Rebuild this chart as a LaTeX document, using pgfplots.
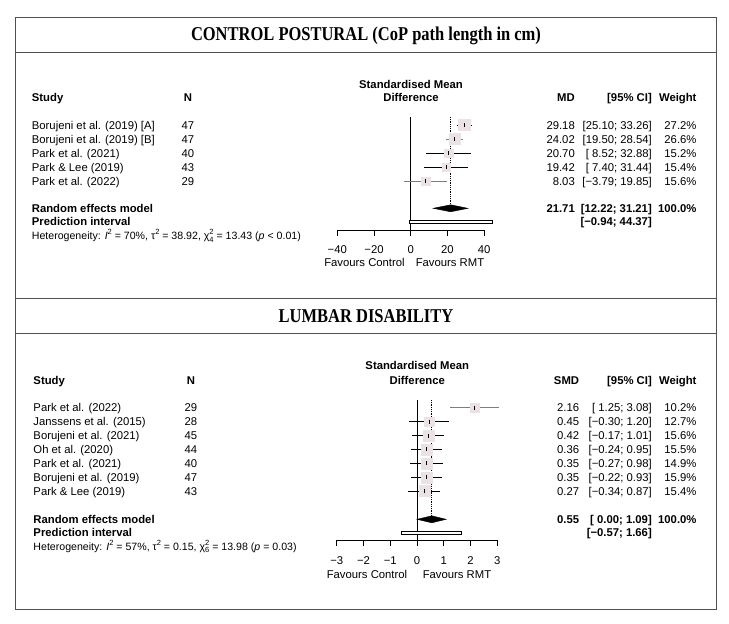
\documentclass[border=0pt]{standalone}
\usepackage{pgfplots}
\pgfplotsset{compat=1.18}
\usepackage{fontspec}
\setmainfont{Liberation Sans}
\newfontfamily\titlefont{Liberation Serif}
\definecolor{sq}{RGB}{234,226,228}
\definecolor{frm}{RGB}{80,80,80}
\definecolor{cig}{RGB}{125,125,125}
\newcommand{\hs}{\fontsize{11.3bp}{13bp}\selectfont}
\newcommand{\het}{\fontsize{10.6bp}{12bp}\selectfont}
\newcommand{\sm}{\fontsize{7.5bp}{9bp}\selectfont}
\newcommand{\sups}[1]{\raisebox{0.85ex}{\sm #1}}
\newcommand{\supsub}[2]{\makebox[0pt][l]{\raisebox{0.85ex}{\sm #1}}\raisebox{-0.45ex}{\sm #2}}
\pgfplotsset{
  forest/.style={
    scale only axis=false,
    axis x line*=bottom, axis y line=none,
    axis line style={black, line width=0.8bp, -},
    xticklabels={}, tick align=outside, major tick length=6bp,
    tick style={black, line width=0.8bp},
    clip=false,
  },
  ln/.style={black, line width=0.8bp},
  sqm/.style={only marks, mark=square*, color=sq, mark options={draw=sq, fill=sq}},
  est/.style={only marks, mark=|, mark size=2bp, black, mark options={line width=0.8bp}},
}
\begin{document}
\hs
\begin{tikzpicture}
\useasboundingbox (0,0) rectangle (729bp,-624bp);
% ---------- frames ----------
\draw[frm, line width=1bp] (15bp,-17.3bp) rectangle (716.7bp,-609.3bp);
\draw[frm, line width=1bp] (15bp,-52.7bp) -- (716.7bp,-52.7bp);
\draw[frm, line width=1bp] (15bp,-298.3bp) -- (716.7bp,-298.3bp);
\draw[frm, line width=1bp] (15bp,-333.3bp) -- (716.7bp,-333.3bp);

% ---------- panel 1 ----------
\begin{axis}[forest,
  at={(337.3bp,-230bp)}, anchor=south west,
  x=1.835bp, y=1bp,
  xmin=-40, xmax=40, ymin=-230, ymax=-115,
  xtick={-40,-20,0,20,40}]
\addplot[ln] coordinates {(0,-117) (0,-230)};
\addplot[ln, densely dotted] coordinates {(21.71,-117) (21.71,-204)};
% Borujeni [A]
\addplot[sqm, mark size=5.66bp] coordinates {(29.18,-125)};
\addplot[ln] coordinates {(25.10,-125) (33.26,-125)};
\addplot[est] coordinates {(29.18,-125)};
% Borujeni [B]
\addplot[sqm, mark size=5.6bp] coordinates {(24.02,-139)};
\addplot[ln, cig] coordinates {(19.50,-139) (28.54,-139)};
\addplot[est] coordinates {(24.02,-139)};
% Park 2021
\addplot[sqm, mark size=4.23bp] coordinates {(20.70,-153)};
\addplot[ln] coordinates {(8.52,-153) (32.88,-153)};
\addplot[est] coordinates {(20.70,-153)};
% Park & Lee 2019
\addplot[sqm, mark size=4.26bp] coordinates {(19.42,-167)};
\addplot[ln] coordinates {(7.40,-167) (31.44,-167)};
\addplot[est] coordinates {(19.42,-167)};
% Park 2022
\addplot[sqm, mark size=4.29bp] coordinates {(8.03,-181)};
\addplot[ln, cig] coordinates {(-3.79,-181) (19.85,-181)};
\addplot[est] coordinates {(8.03,-181)};
% random effects diamond
\addplot[fill=black, draw=black, line width=0.4bp] coordinates {(12.22,-208.3) (21.71,-204.8) (31.21,-208.3) (21.71,-211.8)} -- cycle;
% prediction interval
\addplot[draw=black, fill=white, line width=0.8bp] coordinates {(-0.94,-220) (44.37,-220) (44.37,-223) (-0.94,-223)} -- cycle;
% tick labels
\node[anchor=base, inner sep=0pt] at (axis cs:-40,-253) {−40};
\node[anchor=base, inner sep=0pt] at (axis cs:-20,-253) {−20};
\node[anchor=base, inner sep=0pt] at (axis cs:0,-253) {0};
\node[anchor=base, inner sep=0pt] at (axis cs:20,-253) {20};
\node[anchor=base, inner sep=0pt] at (axis cs:40,-253) {40};
\end{axis}

% ---------- panel 2 ----------
\begin{axis}[forest,
  at={(336.7bp,-540bp)}, anchor=south west,
  x=26.77bp, y=1bp,
  xmin=-3, xmax=3, ymin=-540, ymax=-400,
  xtick={-3,-2,-1,0,1,2,3}]
\addplot[ln] coordinates {(0,-400) (0,-540)};
\addplot[ln, densely dotted] coordinates {(0.55,-400) (0.55,-516)};
% Park 2022
\addplot[sqm, mark size=4.47bp] coordinates {(2.16,-407.7)};
\addplot[ln, cig] coordinates {(1.25,-407.7) (3.08,-407.7)};
\addplot[est] coordinates {(2.16,-407.7)};
% Janssens 2015
\addplot[sqm, mark size=4.99bp] coordinates {(0.45,-421.7)};
\addplot[ln] coordinates {(-0.30,-421.7) (1.20,-421.7)};
\addplot[est] coordinates {(0.45,-421.7)};
% Borujeni 2021
\addplot[sqm, mark size=5.53bp] coordinates {(0.42,-435.7)};
\addplot[ln] coordinates {(-0.17,-435.7) (1.01,-435.7)};
\addplot[est] coordinates {(0.42,-435.7)};
% Oh 2020
\addplot[sqm, mark size=5.51bp] coordinates {(0.36,-449.3)};
\addplot[ln] coordinates {(-0.24,-449.3) (0.95,-449.3)};
\addplot[est] coordinates {(0.36,-449.3)};
% Park 2021
\addplot[sqm, mark size=5.4bp] coordinates {(0.35,-463.3)};
\addplot[ln] coordinates {(-0.27,-463.3) (0.98,-463.3)};
\addplot[est] coordinates {(0.35,-463.3)};
% Borujeni 2019
\addplot[sqm, mark size=5.58bp] coordinates {(0.35,-477.3)};
\addplot[ln] coordinates {(-0.22,-477.3) (0.93,-477.3)};
\addplot[est] coordinates {(0.35,-477.3)};
% Park & Lee 2019
\addplot[sqm, mark size=5.49bp] coordinates {(0.27,-491)};
\addplot[ln] coordinates {(-0.34,-491) (0.87,-491)};
\addplot[est] coordinates {(0.27,-491)};
% diamond
\addplot[fill=black, draw=black, line width=0.4bp] coordinates {(0.00,-519.3) (0.55,-515.8) (1.09,-519.3) (0.55,-522.8)} -- cycle;
% prediction interval
\addplot[draw=black, fill=white, line width=0.8bp] coordinates {(-0.57,-531.3) (1.66,-531.3) (1.66,-534.3) (-0.57,-534.3)} -- cycle;
\node[anchor=base, inner sep=0pt] at (axis cs:-3,-564.7) {−3};
\node[anchor=base, inner sep=0pt] at (axis cs:-2,-564.7) {−2};
\node[anchor=base, inner sep=0pt] at (axis cs:-1,-564.7) {−1};
\node[anchor=base, inner sep=0pt] at (axis cs:0,-564.7) {0};
\node[anchor=base, inner sep=0pt] at (axis cs:1,-564.7) {1};
\node[anchor=base, inner sep=0pt] at (axis cs:2,-564.7) {2};
\node[anchor=base, inner sep=0pt] at (axis cs:3,-564.7) {3};
\end{axis}

% ---------- texts ----------
\begin{scope}[x=1bp, y=-1bp, every node/.style={inner sep=0pt}]
% titles
\node[anchor=base] at (366,41) {\titlefont\bfseries\fontsize{17bp}{19bp}\selectfont\scalebox{0.97}[1.15]{CONTROL POSTURAL (CoP path length in cm)}};
\node[anchor=base] at (366,322) {\titlefont\bfseries\fontsize{17bp}{19bp}\selectfont\scalebox{0.97}[1.15]{LUMBAR DISABILITY}};

% panel 1 header
\node[anchor=base] at (411,88.3) {\bfseries Standardised Mean};
\node[anchor=base] at (411,101.7) {\bfseries Difference};
\node[anchor=base west] at (31.7,101.7) {\bfseries Study};
\node[anchor=base] at (188,101.7) {\bfseries N};
\node[anchor=base east] at (575,101.7) {\bfseries MD};
\node[anchor=base east] at (652,101.7) {\bfseries [95\% CI]};
\node[anchor=base east] at (696.7,101.7) {\bfseries Weight};
% panel 1 rows
\foreach \yy/\st/\n/\md/\ci/\w in {
  129/Borujeni et al. (2019) [A]/47/29.18/[25.10; 33.26]/27.2\%,
  143/Borujeni et al. (2019) [B]/47/24.02/[19.50; 28.54]/26.6\%,
  157.3/Park et al. (2021)/40/20.70/[\ 8.52; 32.88]/15.2\%,
  171/Park \& Lee (2019)/43/19.42/[\ 7.40; 31.44]/15.4\%,
  185/Park et al. (2022)/29/8.03/[−3.79; 19.85]/15.6\%}{
  \node[anchor=base west] at (31.7,\yy) {\st};
  \node[anchor=base] at (188,\yy) {\n};
  \node[anchor=base east] at (575,\yy) {\md};
  \node[anchor=base east] at (652,\yy) {\ci};
  \node[anchor=base east] at (696.7,\yy) {\w};
}
\node[anchor=base west] at (31.7,212.3) {\bfseries Random effects model};
\node[anchor=base west] at (31.7,225.7) {\bfseries Prediction interval};
\node[anchor=base west] at (31.7,239.7) {\het Heterogeneity: \textit{I}\sups{2} = 70\%, τ\sups{2} = 38.92, χ\supsub{2}{4} = 13.43 (\textit{p} < 0.01)};
\node[anchor=base east] at (575,212.3) {\bfseries 21.71};
\node[anchor=base east] at (652,212.3) {\bfseries [12.22; 31.21]};
\node[anchor=base east] at (696.7,212.3) {\bfseries 100.0\%};
\node[anchor=base east] at (652,225.7) {\bfseries [−0.94; 44.37]};
\node[anchor=base] at (364.5,266.7) {Favours Control};
\node[anchor=base] at (450,266.7) {Favours RMT};

% panel 2 header
\node[anchor=base] at (417.3,369.7) {\bfseries Standardised Mean};
\node[anchor=base] at (417.3,384) {\bfseries Difference};
\node[anchor=base west] at (33.3,384) {\bfseries Study};
\node[anchor=base] at (191,384) {\bfseries N};
\node[anchor=base east] at (579.3,384) {\bfseries SMD};
\node[anchor=base east] at (652,384) {\bfseries [95\% CI]};
\node[anchor=base east] at (696.7,384) {\bfseries Weight};
\foreach \yy/\st/\n/\md/\ci/\w in {
  411.7/Park et al. (2022)/29/2.16/[\ 1.25; 3.08]/10.2\%,
  425.7/Janssens et al. (2015)/28/0.45/[−0.30; 1.20]/12.7\%,
  439.7/Borujeni et al. (2021)/45/0.42/[−0.17; 1.01]/15.6\%,
  453.3/Oh et al. (2020)/44/0.36/[−0.24; 0.95]/15.5\%,
  467.3/Park et al. (2021)/40/0.35/[−0.27; 0.98]/14.9\%,
  481.3/Borujeni et al. (2019)/47/0.35/[−0.22; 0.93]/15.9\%,
  495/Park \& Lee (2019)/43/0.27/[−0.34; 0.87]/15.4\%}{
  \node[anchor=base west] at (33.3,\yy) {\st};
  \node[anchor=base] at (191,\yy) {\n};
  \node[anchor=base east] at (579.3,\yy) {\md};
  \node[anchor=base east] at (652,\yy) {\ci};
  \node[anchor=base east] at (696.7,\yy) {\w};
}
\node[anchor=base west] at (33.3,523.3) {\bfseries Random effects model};
\node[anchor=base west] at (33.3,536.7) {\bfseries Prediction interval};
\node[anchor=base west] at (33.3,550) {\het Heterogeneity: \textit{I}\sups{2} = 57\%, τ\sups{2} = 0.15, χ\supsub{2}{6} = 13.98 (\textit{p} = 0.03)};
\node[anchor=base east] at (579.3,523.3) {\bfseries 0.55};
\node[anchor=base east] at (652,523.3) {\bfseries [\ 0.00; 1.09]};
\node[anchor=base east] at (696.7,523.3) {\bfseries 100.0\%};
\node[anchor=base east] at (652,536.7) {\bfseries [−0.57; 1.66]};
\node[anchor=base] at (367,578.3) {Favours Control};
\node[anchor=base] at (457,578.3) {Favours RMT};
\end{scope}
\end{tikzpicture}
\end{document}
